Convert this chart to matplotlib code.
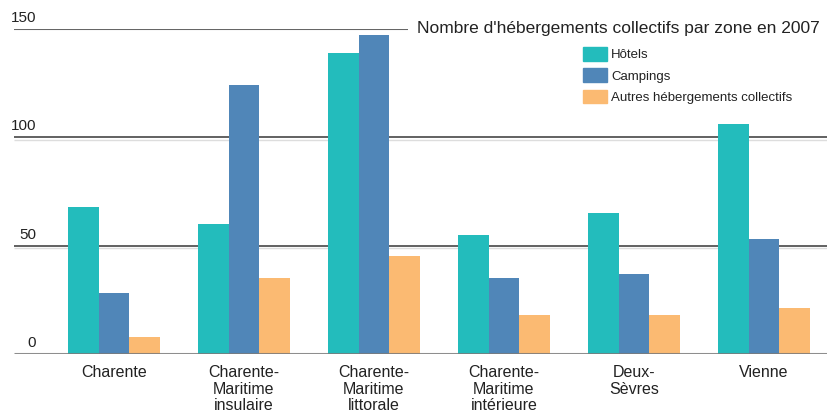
import matplotlib
matplotlib.use('Agg')
import matplotlib.pyplot as plt
from matplotlib import font_manager
from matplotlib.patches import Patch
import numpy as np

# Data
zones = ["Charente", "Charente-\nMaritime\ninsulaire", "Charente-\nMaritime\nlittorale",
         "Charente-\nMaritime\nintérieure", "Deux-\nSèvres", "Vienne"]
hotels = [68, 60, 139, 55, 65, 106]
campings = [28, 124, 147, 35, 37, 53]
autres = [8, 35, 45, 18, 18, 21]
series_names = ["Hôtels", "Campings", "Autres hébergements collectifs"]
y_ticks = [0, 50, 100, 150]
title = "Nombre d'hébergements collectifs par zone en 2007"

colors = ["#23bcbc", "#5086b8", "#fbba72"]

available = {f.name for f in font_manager.fontManager.ttflist}
family = "Liberation Sans Narrow" if "Liberation Sans Narrow" in available else "Liberation Sans"
plt.rcParams['font.family'] = [family, 'DejaVu Sans']

W, H = 827, 416
fig = plt.figure(figsize=(W / 100, H / 100), dpi=100)
left_px, zero_px, top_px = 14, 354, 28.7
ax = fig.add_axes([left_px / W, (H - zero_px) / H, 1 - left_px / W, (zero_px - top_px) / H])

step = 130.0
first_center = 114.0
ax.set_xlim(-(first_center - left_px) / step, (W - first_center) / step)
ax.set_ylim(0, 150)

x = np.arange(len(zones))
bw = 30.5 / step
for k, (vals, name) in enumerate(zip([hotels, campings, autres], series_names)):
    ax.bar(x + (k - 1) * bw, vals, width=bw, color=colors[k], zorder=2, label=name)

# gridlines (the top one stops before the title)
x0, x1 = ax.get_xlim()
title_gap = (408 - first_center) / step
for t in y_ticks:
    if t == 0:
        ax.hlines(t, x0, x1, color="#7a7a7a", lw=2.2, zorder=3, alpha=0.85)
    elif t == 150:
        ax.hlines(t, x0, title_gap, color="#666666", lw=1.5, zorder=1)
    else:
        ax.hlines(t, x0, x1, color="#555555", lw=1.3, zorder=1)
        ax.hlines(t - 1.2, x0, x1, color="#dddddd", lw=1.0, zorder=1)
    ax.text(x0 + 22 / step, t + 1.8, str(t), ha="right", va="bottom",
            fontsize=11, color="#222222")

for spine in ax.spines.values():
    spine.set_visible(False)
ax.set_xticks([])
ax.set_yticks([])

for i, z in enumerate(zones):
    ax.text(i, -5, z, ha="center", va="top", fontsize=11.5, color="#222222",
            linespacing=1.15)

ttl = ax.text(title_gap + 9 / step, 150, title, ha="left", va="center",
              fontsize=15, color="#222222")

handles = [Patch(color=c) for c in colors]
leg = ax.legend(handles, series_names, loc="upper left",
                bbox_to_anchor=((583 - left_px) / (W - left_px), (zero_px - 47) / (zero_px - top_px)),
                frameon=False, fontsize=9.5, handlelength=1.85, handleheight=1.2,
                handletextpad=0.3, labelspacing=0.55, borderaxespad=0, borderpad=0)
for txt in leg.get_texts():
    txt.set_color("#222222")

# shrink the title so it fits the width it takes in the reference (~403 px)
renderer = fig.canvas.get_renderer()
w = ttl.get_window_extent(renderer).width
ttl.set_fontsize(15 * min(1.0, 403 / w))

fig.savefig("out.png", dpi=100)
